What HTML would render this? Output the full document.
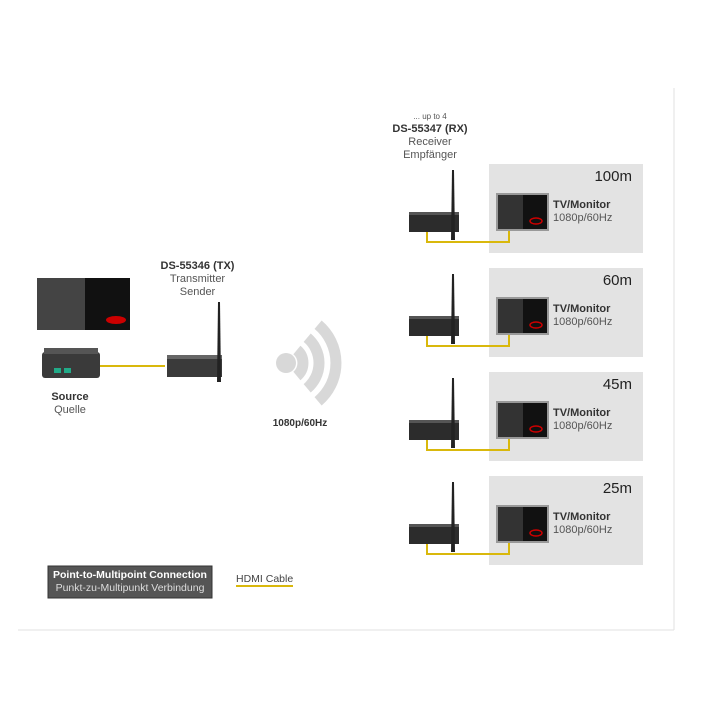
<!DOCTYPE html>
<html><head><meta charset="utf-8"><style>
body{margin:0;width:720px;height:720px;background:#fff;font-family:"Liberation Sans",sans-serif;position:relative;overflow:hidden}
.t{position:absolute;font-size:11px;color:#555;text-align:center;line-height:13px}
.b{font-weight:bold;color:#333}
</style></head><body>
<svg width="720" height="720" style="position:absolute;left:0;top:0">
<line x1="674" y1="88" x2="674" y2="630" stroke="#e2e2e2"/>
<line x1="18" y1="630" x2="674" y2="630" stroke="#e2e2e2"/>
<g id="r">
<rect x="489" y="164" width="154" height="89" fill="#e3e3e3"/>
<rect x="496" y="193" width="53" height="38" fill="#999"/>
<rect x="498" y="195" width="25" height="34" fill="#333"/>
<rect x="523" y="195" width="24" height="34" fill="#111"/>
<ellipse cx="536" cy="221" rx="6" ry="3" fill="none" stroke="#c00" stroke-width="1.5"/>
<path d="M427 231 V242 H509 V231" fill="none" stroke="#d9b80c" stroke-width="2"/>
<polygon points="409,214 459,214 459,232 409,232" fill="#2c2c2c"/>
<rect x="409" y="212" width="50" height="3" fill="#555"/>
<path d="M452 170 L454 170 L455 240 L451 240Z" fill="#222"/>
</g>
<use href="#r" y="104"/><use href="#r" y="208"/><use href="#r" y="312"/>
<rect x="37" y="278" width="93" height="52" fill="#111"/>
<rect x="37" y="278" width="48" height="52" fill="#444"/>
<ellipse cx="116" cy="320" rx="10" ry="4" fill="#c00"/>
<line x1="100" y1="366" x2="165" y2="366" stroke="#d9b80c" stroke-width="2"/>
<rect x="42" y="352" width="58" height="26" rx="3" fill="#3a3a3a"/>
<rect x="44" y="348" width="54" height="6" fill="#555"/>
<rect x="54" y="368" width="7" height="5" fill="#2a8"/><rect x="64" y="368" width="7" height="5" fill="#2a8"/>
<rect x="167" y="357" width="55" height="20" fill="#3a3a3a"/>
<rect x="167" y="355" width="55" height="4" fill="#666"/>
<path d="M218 302 L220 302 L221 382 L217 382Z" fill="#222"/>
<circle cx="286" cy="363" r="10" fill="#d8d8d8"/>
<g fill="none" stroke="#d8d8d8" stroke-width="11">
<path d="M296.9 350 A17 17 0 0 1 296.9 376"/>
<path d="M307.2 337.7 A33 33 0 0 1 307.2 388.3"/>
<path d="M318.1 324.7 A50 50 0 0 1 318.1 401.3"/>
</g>
<rect x="48" y="566" width="164" height="32" fill="#555" stroke="#333"/>
<line x1="236" y1="586" x2="293" y2="586" stroke="#d9b80c" stroke-width="2"/>
</svg>
<div class="t" style="left:150px;top:260px;width:95px"><span class="b">DS-55346 (TX)</span><br>Transmitter<br>Sender</div>
<div class="t" style="left:35px;top:391px;width:70px"><span class="b">Source</span><br>Quelle</div>
<div class="t b" style="left:270px;top:417px;width:60px;font-size:10px">1080p/60Hz</div>
<div class="t" style="left:380px;top:110px;width:100px"><span style="font-size:8px">... up to 4</span><br><span class="b">DS-55347 (RX)</span><br>Receiver<br>Empfänger</div>
<div style="position:absolute;left:48px;top:569px;width:164px;text-align:center;color:#fff;font-size:10.5px;line-height:13px"><b>Point-to-Multipoint Connection</b><br><span style="color:#ddd">Punkt-zu-Multipunkt Verbindung</span></div>
<div class="t" style="left:236px;top:573px;font-size:10.5px;color:#444">HDMI Cable</div>
<div style="position:absolute;left:0;top:0;font-size:11px;color:#555;line-height:13px">
<div style="position:absolute;left:560px;top:170px;width:72px;text-align:right;font-size:15px;color:#222">100m</div>
<div style="position:absolute;left:553px;top:199px;white-space:nowrap"><b style="color:#333">TV/Monitor</b><br>1080p/60Hz</div>
<div style="position:absolute;left:560px;top:274px;width:72px;text-align:right;font-size:15px;color:#222">60m</div>
<div style="position:absolute;left:553px;top:303px;white-space:nowrap"><b style="color:#333">TV/Monitor</b><br>1080p/60Hz</div>
<div style="position:absolute;left:560px;top:378px;width:72px;text-align:right;font-size:15px;color:#222">45m</div>
<div style="position:absolute;left:553px;top:407px;white-space:nowrap"><b style="color:#333">TV/Monitor</b><br>1080p/60Hz</div>
<div style="position:absolute;left:560px;top:482px;width:72px;text-align:right;font-size:15px;color:#222">25m</div>
<div style="position:absolute;left:553px;top:511px;white-space:nowrap"><b style="color:#333">TV/Monitor</b><br>1080p/60Hz</div>
</div>
</body></html>
